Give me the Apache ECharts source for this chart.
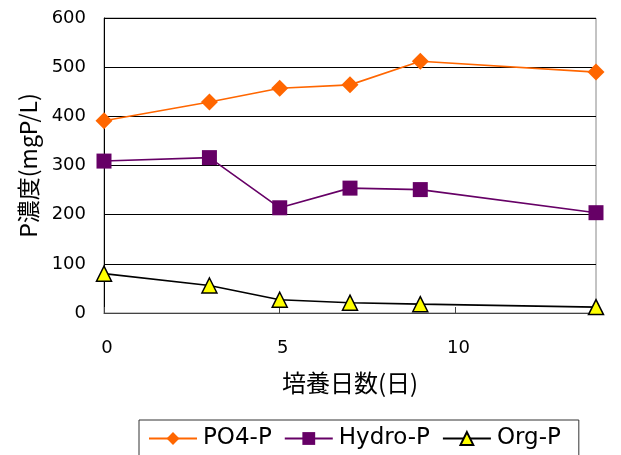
<!DOCTYPE html>
<html>
<head>
<meta charset="utf-8">
<script src="https://cdn.jsdelivr.net/npm/echarts@6/dist/echarts.min.js"></script>
<style>
  html, body { margin: 0; padding: 0; background: #fff; }
  #chart { width: 621px; height: 455px; }
</style>
</head>
<body>
<div id="chart"></div>
<script>
// Incubation days
const days = [0, 3, 5, 7, 9, 14];
// Phosphorus fractions (mgP/L)
const po4P = [391, 429, 457, 464, 512, 490];
const hydroP = [309, 316, 214, 254, 251, 204];
const orgP = [80, 56, 27, 21, 18, 12];

const NUM_FONT = '"DejaVu Sans", "Noto Sans CJK JP", sans-serif';
const JP_FONT = '"Noto Sans CJK JP", "DejaVu Sans", sans-serif';

function pairs(xs, ys) {
  return xs.map((x, i) => [x, ys[i]]);
}

const chart = echarts.init(document.getElementById('chart'), null, { renderer: 'canvas' });

chart.setOption({
  animation: false,
  backgroundColor: '#fff',
  textStyle: { fontFamily: NUM_FONT, color: '#000' },
  grid: {
    left: 104, right: 25, top: 18, bottom: 142,
    show: true, borderColor: '#888', borderWidth: 1
  },
  legend: {
    top: 420, left: 139,
    padding: [7, 18, 12, 9],
    borderColor: '#333', borderWidth: 1,
    itemWidth: 48, itemHeight: 16, itemGap: 12,
    textStyle: { fontFamily: NUM_FONT, fontSize: 23, color: '#000', padding: [0, 0, 0, 1] },
    data: ['PO4-P', 'Hydro-P', 'Org-P']
  },
  xAxis: {
    type: 'value', min: 0, max: 14, interval: 5,
    name: '培養日数(日)', nameLocation: 'middle', nameGap: 58,
    nameTextStyle: { fontFamily: JP_FONT, fontSize: 24, color: '#000' },
    axisLine: { lineStyle: { color: '#444', width: 1 } },
    axisTick: { show: true, inside: true, length: 6, lineStyle: { color: '#444' } },
    axisLabel: {
      fontFamily: NUM_FONT, fontSize: 18, color: '#000',
      margin: 26, padding: [0, 0, 0, 6], showMaxLabel: false
    },
    splitLine: { show: false }
  },
  yAxis: {
    type: 'value', min: 0, max: 600, interval: 100,
    name: 'P濃度(mgP/L)', nameLocation: 'middle', nameGap: 64,
    nameTextStyle: { fontFamily: JP_FONT, fontSize: 23, color: '#000' },
    axisLine: { show: true, lineStyle: { color: '#000', width: 1 } },
    axisTick: { show: false },
    axisLabel: { fontFamily: NUM_FONT, fontSize: 18, color: '#000', margin: 18 },
    splitLine: { show: true, lineStyle: { color: '#000', width: 1 } }
  },
  series: [
    {
      name: 'PO4-P', type: 'line', data: pairs(days, po4P),
      symbol: 'diamond', symbolSize: 17,
      lineStyle: { color: '#FF6600', width: 1.6 },
      itemStyle: { color: '#FF6600', borderWidth: 0 },
      z: 3
    },
    {
      name: 'Hydro-P', type: 'line', data: pairs(days, hydroP),
      symbol: 'rect', symbolSize: 15,
      lineStyle: { color: '#660066', width: 1.6 },
      itemStyle: { color: '#660066', borderWidth: 0 },
      z: 3
    },
    {
      name: 'Org-P', type: 'line', data: pairs(days, orgP),
      symbol: 'triangle', symbolSize: 15,
      lineStyle: { color: '#000', width: 1.6 },
      itemStyle: { color: '#FFFF00', borderColor: '#000', borderWidth: 1.5 },
      z: 3
    }
  ]
});
</script>
</body>
</html>
